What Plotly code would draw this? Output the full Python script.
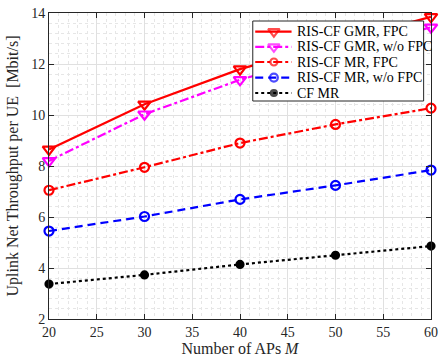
import plotly.graph_objects as go

M = [20, 30, 40, 50, 60]
gmr_fpc = [8.65, 10.42, 11.8, 12.85, 13.85]
gmr_nofpc = [8.2, 10.03, 11.38, 12.45, 13.44]
mr_fpc = [7.05, 7.95, 8.9, 9.63, 10.27]
mr_nofpc = [5.45, 6.02, 6.69, 7.24, 7.84]
cf_mr = [3.37, 3.73, 4.14, 4.5, 4.86]

names = ["RIS-CF GMR, FPC", "RIS-CF GMR, w/o FPC", "RIS-CF MR, FPC",
         "RIS-CF MR, w/o FPC", "CF MR"]
series = [gmr_fpc, gmr_nofpc, mr_fpc, mr_nofpc, cf_mr]
colors = ["#ff0000", "#ff00ff", "#ff0000", "#0000ff", "#000000"]
dashes = ["solid", "dashdot", "dashdot", "8px,5px", "dot"]
symbols = ["triangle-down-open", "triangle-down-open", "circle-open", "circle-open", "circle"]
msizes = [11, 11, 9, 9, 7]
leg_msizes = [10, 10, 7, 8, 6]

font = "Liberation Serif, Times New Roman, serif"

fig = go.Figure()
for n, s, c, d, sy, ms in zip(names, series, colors, dashes, symbols, msizes):
    fig.add_trace(go.Scatter(
        x=M, y=s, name=n, mode="lines+markers", showlegend=False, hoverinfo="skip",
        line=dict(color=c, width=2.2, dash=d),
        marker=dict(symbol=sy, size=ms, color=c, line=dict(color=c, width=2.2)),
        cliponaxis=False,
    ))

# Manual legend drawn in pixel coordinates of the plot area (overlay axes)
L, R, T, B = 256.5, 430.5, 21, 101
row_y = [31.7, 46.8, 62.0, 77.6, 93.0]
fig.add_trace(go.Scatter(
    x=[L, R, R, L, L], y=[T, T, B, B, T], xaxis="x2", yaxis="y2",
    mode="lines", fill="toself", fillcolor="white",
    line=dict(color="#262626", width=1), showlegend=False, hoverinfo="skip",
))
for n, c, d, sy, ms, yy in zip(names, colors, dashes, symbols, leg_msizes, row_y):
    fig.add_trace(go.Scatter(
        x=[259, 278, 296], y=[yy, yy, yy], xaxis="x2", yaxis="y2",
        mode="lines+markers", showlegend=False, hoverinfo="skip",
        line=dict(color=c, width=2.2, dash=d),
        marker=dict(symbol=sy, size=[0, ms, 0], color=c, line=dict(color=c, width=2.2)),
        cliponaxis=False,
    ))
    fig.add_annotation(x=299, y=yy, xref="x2", yref="y2", text=n, showarrow=False,
                       xanchor="left", yanchor="middle",
                       font=dict(family=font, size=14, color="#000000"))

axis_common = dict(
    showline=True, linecolor="#262626", linewidth=1, mirror="ticks",
    ticks="inside", ticklen=5, tickcolor="#262626",
    showgrid=True, gridcolor="#e0e0e0", gridwidth=1,
    zeroline=False, ticklabeloverflow="allow",
    tickfont=dict(family=font, size=14, color="#262626"),
)
minor_common = dict(showgrid=True, gridcolor="#e6e6e6", griddash="dot", gridwidth=1, ticks="")
fig.update_layout(
    width=444, height=364,
    margin=dict(l=49, r=6, t=13, b=45),
    paper_bgcolor="white", plot_bgcolor="white",
    font=dict(family=font, color="#262626"),
    xaxis=dict(range=[20, 60], dtick=5, tick0=20,
               title=dict(text="Number of APs <i>M</i>", font=dict(family=font, size=16), standoff=4),
               minor=dict(dtick=1, **minor_common),
               **axis_common),
    yaxis=dict(range=[2, 14], dtick=2, tick0=2,
               title=dict(text="Uplink Net Throughput per UE  [Mbit/s]", font=dict(family=font, size=16), standoff=8),
               minor=dict(dtick=0.4, **minor_common),
               **axis_common),
    xaxis2=dict(overlaying="x", range=[49, 438], visible=False, fixedrange=True),
    yaxis2=dict(overlaying="y", range=[319, 13], visible=False, fixedrange=True),
    showlegend=False,
)
fig.write_html("out.html")
